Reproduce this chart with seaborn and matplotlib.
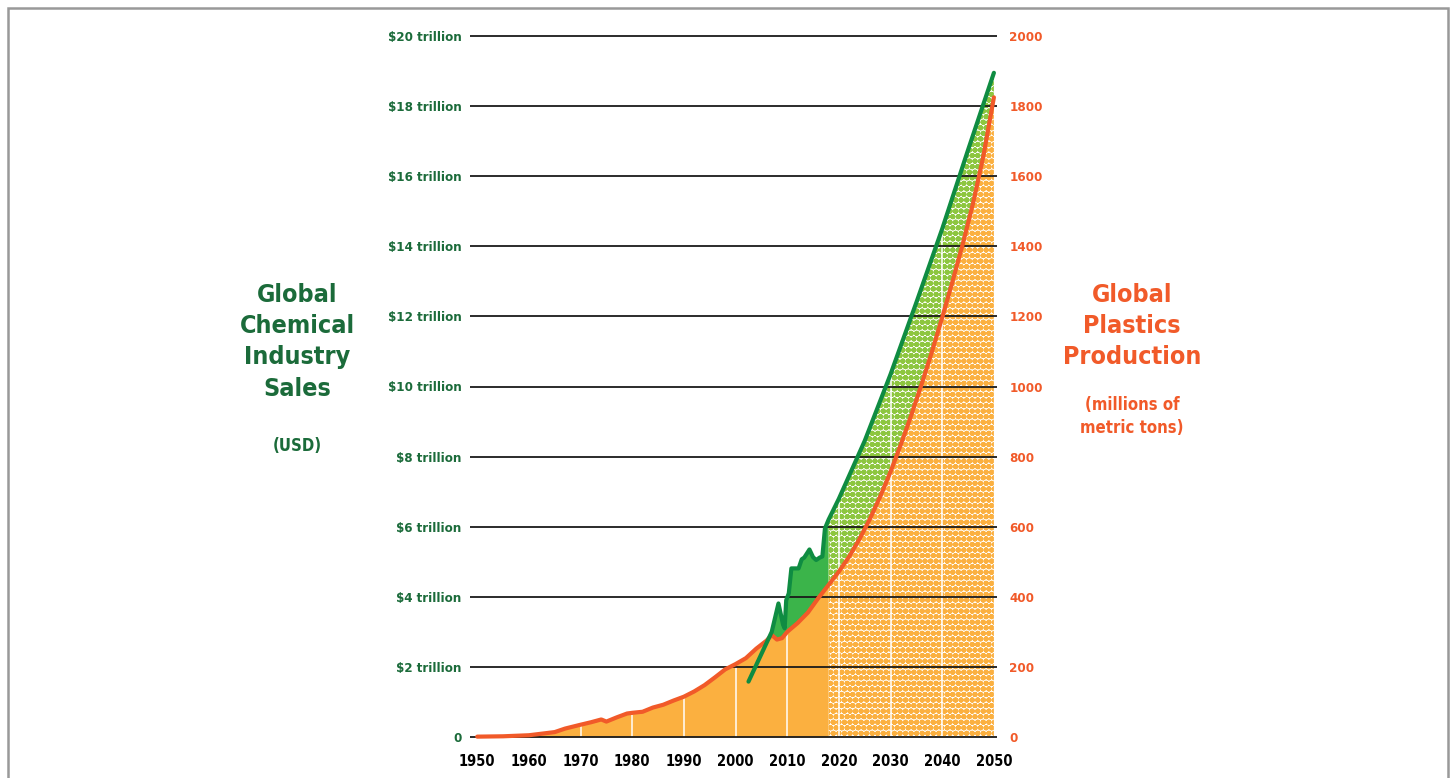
import numpy as np
import pandas as pd
import matplotlib
matplotlib.use("Agg")
import matplotlib.pyplot as plt
from matplotlib.patches import Rectangle
import seaborn as sns

# Global plastics production, million metric tons (historical)
plastic_years = [1950, 1955, 1960, 1965, 1967, 1970, 1972, 1974, 1975, 1977,
                 1979, 1980, 1982, 1984, 1986, 1988, 1990, 1992, 1994, 1996,
                 1998, 2000, 2002, 2004, 2006, 2007, 2008, 2009, 2010, 2012,
                 2014, 2016, 2018]
plastic_mt = [1, 2, 5, 14, 24, 35, 42, 50, 44, 56,
              67, 69, 72, 84, 92, 104, 115, 130, 148, 170,
              193, 208, 225, 252, 275, 291, 278, 282, 300, 325,
              355, 396, 434]

# Plastics projection
plastic_proj_years = [2018, 2020, 2022, 2024, 2026, 2028, 2030, 2032, 2034,
                      2036, 2038, 2040, 2042, 2044, 2046, 2048, 2050]
plastic_proj_mt = [434, 472, 515, 565, 622, 686, 757, 835, 918,
                   1006, 1099, 1197, 1300, 1408, 1525, 1660, 1825]

# Global chemical industry sales, trillion USD (historical)
chem_years = [2002.5, 2007, 2008.3, 2009.2, 2009.5, 2009.8, 2010.3, 2010.8,
              2012.2, 2012.8, 2013.3, 2014.3, 2015.0, 2015.6, 2016.3, 2016.8,
              2017.3, 2018]
chem_tn = [1.58, 3.0, 3.81, 3.2, 3.1, 3.9, 4.1, 4.81,
           4.81, 5.07, 5.12, 5.35, 5.13, 5.05, 5.12, 5.15,
           5.95, 6.2]

# Chemical sales projection
chem_proj_years = [2018, 2020, 2025, 2030, 2035, 2040, 2045, 2050]
chem_proj_tn = [6.2, 6.8, 8.45, 10.35, 12.4, 14.5, 16.75, 18.95]

year_ticks = list(range(1950, 2051, 10))
usd_ticks = list(range(0, 21, 2))
usd_labels = ["0"] + [f"${v} trillion" for v in usd_ticks[1:]]
mt_labels = [str(v * 100) for v in usd_ticks]

DARK_GREEN = "#1b6b3a"
LINE_GREEN = "#0f8c42"
FILL_GREEN = "#3bb44a"
DOT_GREEN = "#8dc63f"
RED_ORANGE = "#f15a29"
FILL_ORANGE = "#fbb040"

sns.set_theme(style="white")
plt.rcParams["font.family"] = ["DejaVu Sans"]
plt.rcParams["font.stretch"] = "condensed"
plt.rcParams["font.weight"] = "bold"
plt.rcParams["hatch.linewidth"] = 2.1

fig = plt.figure(figsize=(14.52, 7.78), dpi=100)
ax = fig.add_axes([470 / 1452, 37.5 / 778, 527 / 1452, 708 / 778])

# plastics drawn on the USD axis: 100 Mt <-> $1 trillion share the same gridline
scale = 100.0
p_yrs = np.array(plastic_years, dtype=float)
p_val = np.array(plastic_mt) / scale
pp_yrs = np.array(plastic_proj_years, dtype=float)
pp_val = np.array(plastic_proj_mt) / scale
c_yrs = np.array(chem_years)
c_val = np.array(chem_tn)
cp_yrs = np.array(chem_proj_years, dtype=float)
cp_val = np.array(chem_proj_tn)

# orange area: solid for history, dotted for projection
ax.fill_between(p_yrs, 0, p_val, color=FILL_ORANGE, lw=0, zorder=1)
ax.fill_between(pp_yrs, 0, pp_val, facecolor="white", edgecolor=FILL_ORANGE,
                hatch="ooo", lw=0, zorder=1)

# green area above the plastics curve
grid = np.union1d(c_yrs, p_yrs[(p_yrs >= c_yrs[0]) & (p_yrs <= c_yrs[-1])])
g = np.interp(grid, c_yrs, c_val)
o = np.interp(grid, p_yrs, p_val)
ax.fill_between(grid, o, g, where=g >= o, interpolate=True,
                color=FILL_GREEN, lw=0, zorder=1.2)
grid_p = np.union1d(cp_yrs, pp_yrs)
ax.fill_between(grid_p, np.interp(grid_p, pp_yrs, pp_val),
                np.interp(grid_p, cp_yrs, cp_val), facecolor="white",
                edgecolor=DOT_GREEN, hatch="ooo", lw=0, zorder=1.2)

# thin white decade dividers inside the areas
for yr in year_ticks[1:-1]:
    if yr <= 2010:
        top = np.interp(yr, p_yrs, p_val) - 0.05
    else:
        top = np.interp(yr, cp_yrs, cp_val) - 0.05
    ax.vlines(yr, 0, top, color="white", lw=1.2, alpha=0.9, zorder=1.5)

for v in usd_ticks:
    ax.axhline(v, color="#1a1a1a", lw=1.3, zorder=2)

lines = pd.concat([
    pd.DataFrame({"year": np.r_[p_yrs, pp_yrs[1:]],
                  "value": np.r_[p_val, pp_val[1:]], "series": "plastics"}),
    pd.DataFrame({"year": np.r_[c_yrs, cp_yrs[1:]],
                  "value": np.r_[c_val, cp_val[1:]], "series": "chemicals"}),
])
sns.lineplot(data=lines, x="year", y="value", hue="series",
             palette={"plastics": RED_ORANGE, "chemicals": LINE_GREEN},
             hue_order=["plastics", "chemicals"], linewidth=3.0,
             legend=False, ax=ax, zorder=3, sort=False)

ax.set_xlim(1948.6, 2050.6)
ax.set_ylim(-0.1, 20.1)
ax.set_xlabel("")
ax.set_ylabel("")
ax.set_xticks(year_ticks)
ax.set_xticklabels([str(y) for y in year_ticks], fontsize=10.5,
                   fontweight="bold", color="black")
ax.set_yticks(usd_ticks)
ax.set_yticklabels(usd_labels, fontsize=9.5, fontweight="bold", color=DARK_GREEN)
ax.tick_params(axis="x", length=0, pad=10)
ax.tick_params(axis="y", length=0, pad=6)
for s in ax.spines.values():
    s.set_visible(False)

ax2 = ax.twinx()
ax2.set_ylim(-0.1 * scale, 20.1 * scale)
ax2.set_yticks([v * scale for v in usd_ticks])
ax2.set_yticklabels(mt_labels, fontsize=9.5, fontweight="bold", color=RED_ORANGE)
ax2.tick_params(axis="y", length=0, pad=9)
ax2.grid(False)
for s in ax2.spines.values():
    s.set_visible(False)

fig.text(297 / 1452, 1 - 283 / 778, "Global\nChemical\nIndustry\nSales",
         ha="center", va="top", fontsize=18, fontweight="bold",
         color=DARK_GREEN, linespacing=1.38)
fig.text(297 / 1452, 1 - 451 / 778, "(USD)", ha="center", va="baseline",
         fontsize=12, fontweight="bold", color=DARK_GREEN)
fig.text(1132 / 1452, 1 - 283 / 778, "Global\nPlastics\nProduction",
         ha="center", va="top", fontsize=18, fontweight="bold",
         color=RED_ORANGE, linespacing=1.38)
fig.text(1132 / 1452, 1 - 396 / 778, "(millions of\nmetric tons)",
         ha="center", va="top", fontsize=12, fontweight="bold",
         color=RED_ORANGE, linespacing=1.35)

# page frame
fig.add_artist(Rectangle((8 / 1452, -0.05), 1440 / 1452, 1.05 - 8 / 778,
                         transform=fig.transFigure, fill=False,
                         edgecolor="#999999", lw=1.8))

fig.savefig("out.png", dpi=100)
